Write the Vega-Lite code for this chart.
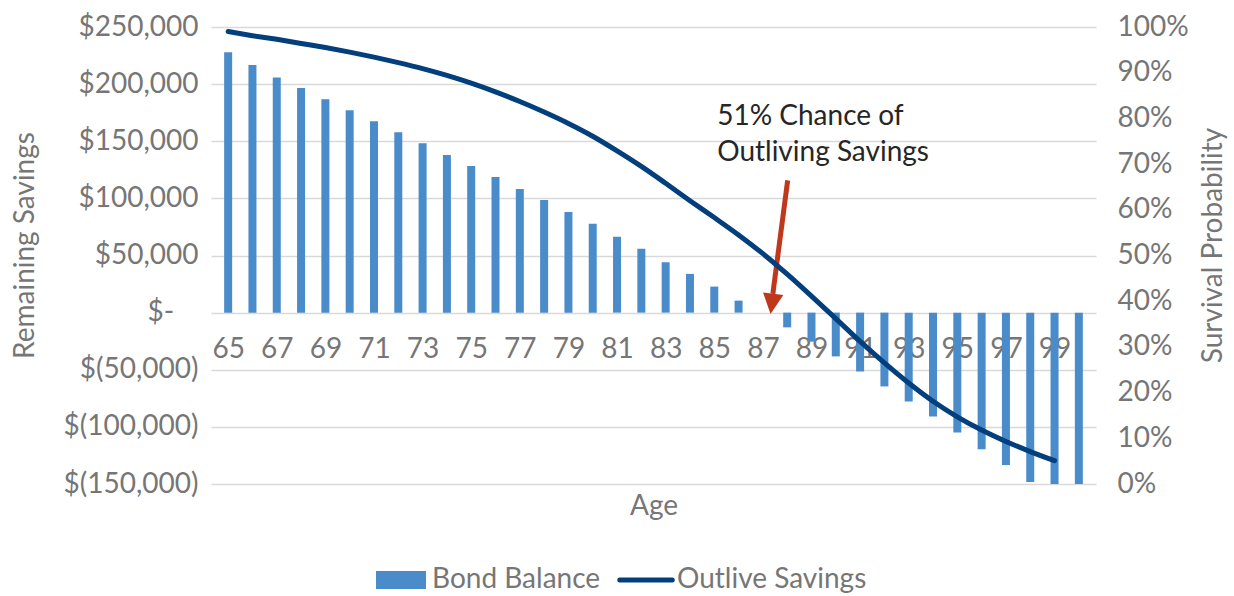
{
  "$schema": "https://vega.github.io/schema/vega-lite/v6.json",
  "autosize": {"type": "none"},
  "width": 885,
  "height": 457,
  "padding": {"left": 211, "top": 27, "right": 138, "bottom": 112},
  "background": "white",
  "config": {
    "font": "Lato",
    "view": {"stroke": null},
    "axis": {"labelFont": "Lato", "titleFont": "Lato", "labelFontSize": 28, "titleFontSize": 28, "labelColor": "#767676", "titleColor": "#767676", "titleFontWeight": "normal", "domain": false, "ticks": false, "tickSize": 0}
  },
  "datasets": {
    "main": [
      {"age": 65, "balance": 228000, "survival": 0.99},
      {"age": 66, "balance": 216700, "survival": 0.981},
      {"age": 67, "balance": 205900, "survival": 0.973},
      {"age": 68, "balance": 196500, "survival": 0.964},
      {"age": 69, "balance": 186800, "survival": 0.955},
      {"age": 70, "balance": 177200, "survival": 0.945},
      {"age": 71, "balance": 167500, "survival": 0.934},
      {"age": 72, "balance": 157900, "survival": 0.922},
      {"age": 73, "balance": 148200, "survival": 0.909},
      {"age": 74, "balance": 138000, "survival": 0.894},
      {"age": 75, "balance": 128400, "survival": 0.877},
      {"age": 76, "balance": 118700, "survival": 0.858},
      {"age": 77, "balance": 108200, "survival": 0.837},
      {"age": 78, "balance": 98500, "survival": 0.814},
      {"age": 79, "balance": 88000, "survival": 0.789},
      {"age": 80, "balance": 77800, "survival": 0.761},
      {"age": 81, "balance": 66400, "survival": 0.729},
      {"age": 82, "balance": 55900, "survival": 0.695},
      {"age": 83, "balance": 44100, "survival": 0.658},
      {"age": 84, "balance": 33900, "survival": 0.62},
      {"age": 85, "balance": 22800, "survival": 0.583},
      {"age": 86, "balance": 10500, "survival": 0.545},
      {"age": 87, "balance": 0, "survival": 0.504},
      {"age": 88, "balance": -12900, "survival": 0.459},
      {"age": 89, "balance": -25400, "survival": 0.411},
      {"age": 90, "balance": -38300, "survival": 0.362},
      {"age": 91, "balance": -51500, "survival": 0.312},
      {"age": 92, "balance": -64600, "survival": 0.265},
      {"age": 93, "balance": -77800, "survival": 0.221},
      {"age": 94, "balance": -91000, "survival": 0.181},
      {"age": 95, "balance": -105000, "survival": 0.147},
      {"age": 96, "balance": -119600, "survival": 0.118},
      {"age": 97, "balance": -133300, "survival": 0.093},
      {"age": 98, "balance": -148200, "survival": 0.071},
      {"age": 99, "balance": -150000, "survival": 0.051},
      {"age": 100, "balance": -150000, "survival": null}
    ],
    "notes": [
      {"label": "51% Chance of", "age": 85.12, "balance": 171000},
      {"label": "Outliving Savings", "age": 85.12, "balance": 139500}
    ],
    "zeroLabel": [
      {"label": "$-", "age": 62.78, "balance": 0}
    ],
    "arrow": [
      {"age": 88.02, "balance": 115800, "age2": 87.41, "balance2": 16400}
    ],
    "arrowhead": [
      {"age": 87.37, "balance": 7600}
    ]
  },
  "encoding": {
    "x": {
      "field": "age", "type": "quantitative",
      "scale": {"domain": [64.5, 100.5], "nice": false, "zero": false},
      "axis": {
        "orient": "bottom", "offset": -172, "values": [65,67,69,71,73,75,77,79,81,83,85,87,89,91,93,95,97,99],
        "grid": false, "labelPadding": 37, "labelBaseline": "middle", "format": "d",
        "title": "Age", "titleY": 194, "titleBaseline": "middle"
      }
    }
  },
  "layer": [
    {
      "encoding": {
        "y": {
          "field": "balance", "type": "quantitative",
          "scale": {"domain": [-150000, 250000], "nice": false, "zero": false},
          "axis": {
            "orient": "left", "values": [-150000,-100000,-50000,0,50000,100000,150000,200000,250000],
            "grid": true, "gridColor": "#d9d9d9", "gridWidth": 1.6,
            "labelPadding": 13,
            "labelExpr": "datum.value == 0 ? '' : (datum.value < 0 ? '$(' + format(-datum.value, ',') + ')' : '$' + format(datum.value, ','))",
            "title": "Remaining Savings", "titleX": -186, "titleY": 218, "titleBaseline": "middle", "titleAngle": 270
          }
        }
      },
      "layer": [
        {
          "data": {"name": "main"},
          "mark": {"type": "bar", "size": 8, "color": "#4a8bca"},
          "encoding": {
            "color": {
              "datum": "Bond Balance",
              "scale": {"domain": ["Bond Balance", "Outlive Savings"], "range": ["#4a8bca", "#023f7c"]},
              "legend": {
                "orient": "none", "legendX": 176, "legendY": 539, "direction": "horizontal",
                "title": null, "symbolSize": 2500, "labelFontSize": 28, "labelColor": "#767676", "labelFont": "Lato",
                "labelOffset": 17, "labelLimit": 0, "columnPadding": 8, "padding": 0,
                "encode": {
                  "symbols": {
                    "update": {
                      "shape": {"signal": "datum.value === 'Bond Balance' ? 'M-1,-0.36H1V0.36H-1Z' : 'M-1.05,0H1.05'"},
                      "fill": {"signal": "datum.value === 'Bond Balance' ? '#4a8bca' : 'transparent'"},
                      "stroke": {"signal": "datum.value === 'Bond Balance' ? 'transparent' : '#023f7c'"},
                      "strokeWidth": {"signal": "datum.value === 'Bond Balance' ? 0 : 5"},
                      "strokeCap": {"value": "round"},
                      "size": {"value": 2500},
                      "opacity": {"value": 1}
                    }
                  }
                }
              }
            }
          }
        },
        {
          "data": {"name": "arrow"},
          "mark": {"type": "rule", "color": "#c0381c", "strokeWidth": 5},
          "encoding": {
            "x2": {"field": "age2"},
            "y2": {"field": "balance2"}
          }
        },
        {
          "data": {"name": "arrowhead"},
          "mark": {"type": "point", "shape": "M-1,-1L1,-1L0,1Z", "size": 420, "filled": true, "color": "#c0381c", "opacity": 1, "angle": 7.5},
          "encoding": {}
        },
        {
          "data": {"name": "notes"},
          "mark": {"type": "text", "align": "left", "baseline": "middle", "fontSize": 28, "font": "Lato", "color": "#262626"},
          "encoding": {
            "text": {"field": "label"}
          }
        },
        {
          "data": {"name": "zeroLabel"},
          "mark": {"type": "text", "align": "right", "baseline": "middle", "fontSize": 28, "font": "Lato", "color": "#767676"},
          "encoding": {
            "text": {"field": "label"}
          }
        }
      ]
    },
    {
      "data": {"name": "main"},
      "transform": [{"filter": "datum.survival != null"}],
      "mark": {"type": "line", "strokeWidth": 5, "interpolate": "monotone", "strokeCap": "round"},
      "encoding": {
        "y": {
          "field": "survival", "type": "quantitative",
          "scale": {"domain": [0, 1], "nice": false, "zero": false},
          "axis": {
            "orient": "right", "values": [0,0.1,0.2,0.3,0.4,0.5,0.6,0.7,0.8,0.9,1], "format": ".0%",
            "grid": false, "labelPadding": 21,
            "title": "Survival Probability", "titleX": 117, "titleY": 218, "titleBaseline": "middle", "titleAngle": 270
          }
        },
        "color": {"datum": "Outlive Savings"}
      }
    }
  ],
  "resolve": {"scale": {"y": "independent"}}
}
